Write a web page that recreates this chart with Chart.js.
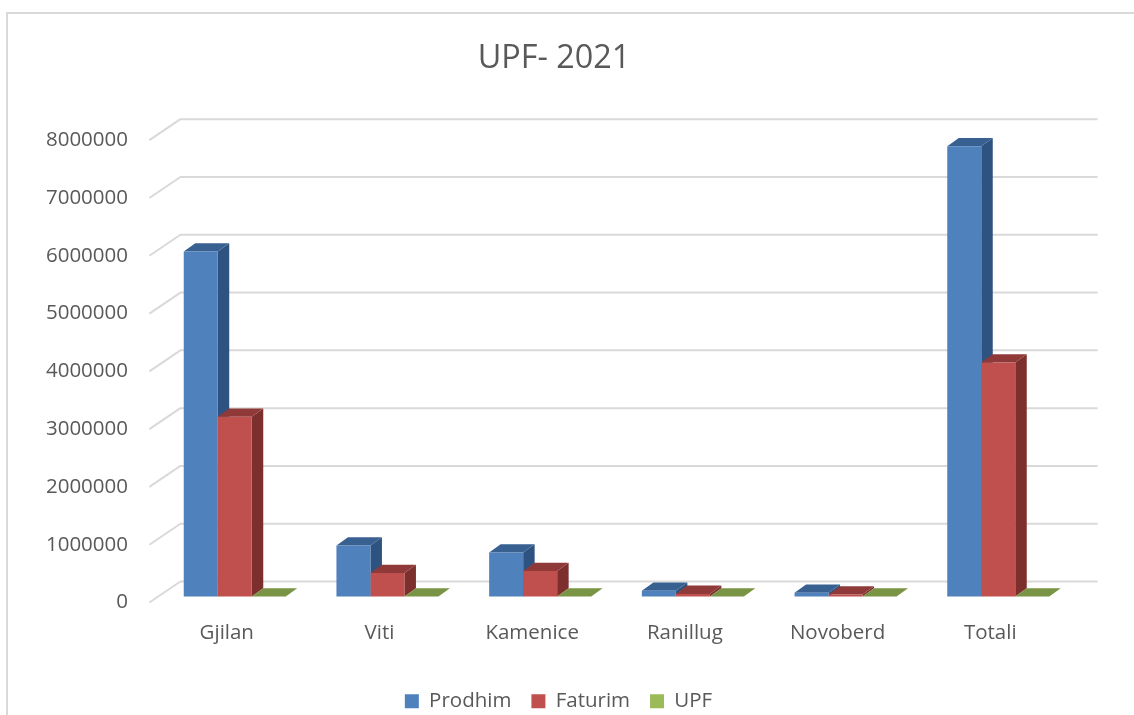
<!DOCTYPE html>
<html>
<head>
<meta charset="utf-8">
<script src="https://cdn.jsdelivr.net/npm/chart.js@4/dist/chart.umd.min.js"></script>
<style>
html,body{margin:0;padding:0;background:#fff;width:1134px;height:715px;overflow:hidden}
#frame{position:absolute;left:6px;top:12px;width:1128px;height:703px;border-left:2px solid #d9d9d9;border-top:2px solid #d9d9d9;box-sizing:border-box}
canvas{position:absolute;left:0;top:0}
</style>
</head>
<body>
<div id="frame"></div>
<canvas id="c" width="1134" height="715"></canvas>
<script>
const categories = ["Gjilan","Viti","Kamenice","Ranillug","Novoberd","Totali"];
const prodhim = [5970000,883000,760000,100000,65000,7790000];
const faturim = [3110000,406000,440000,45000,35000,4050000];
const upf = [0.52,0.46,0.58,0.55,0.67,0.52];
const axisMax = 8000000;
const axisStep = 1000000;

const FONT = '"Open Sans"';
const TEXT = '#595959';
const GRID = '#d9d9d9';
const depthX = 11.5, depthY = 8.3;          // depth of each 3D bar
const wallX = 31, wallY = 21;               // depth of the back wall
const barShiftX = 8, barShiftY = -6;        // bars sit inside the floor
const sideColors = ['#2f5380','#7c2f2d','#64802f'];
const topColors  = ['#386192','#8f3a38','#7a9445'];

const threeD = {
  id: 'threeD',
  afterLayout(chart) {
    const t = chart.titleBlock; t.left += 10.5; t.right += 10.5;
    const l = chart.legend; l.left += 15; l.right += 15; l.top = 671;
  },
  beforeDatasetsDraw(chart) {
    const {ctx, scales:{x, y}, chartArea:a} = chart;
    ctx.save();
    ctx.strokeStyle = GRID; ctx.lineWidth = 2; ctx.lineJoin = 'round';
    y.ticks.forEach(t => {
      const py = y.getPixelForValue(t.value);
      ctx.beginPath();
      ctx.moveTo(a.left - 1, py);
      ctx.lineTo(a.left - 1 + wallX, py - wallY);
      ctx.lineTo(a.right + wallX, py - wallY);
      ctx.stroke();
    });
    ctx.translate(barShiftX, barShiftY);
    const metas = chart.data.datasets.map((d, i) => chart.getDatasetMeta(i));
    metas.forEach((m, i) => {
      m.data.forEach(b => {
        const p = b.getProps(['x','y','base','width'], true);
        const l = p.x - p.width/2, r = p.x + p.width/2;
        ctx.fillStyle = sideColors[i];
        ctx.beginPath();
        ctx.moveTo(r, p.y); ctx.lineTo(r + depthX, p.y - depthY);
        ctx.lineTo(r + depthX, p.base - depthY); ctx.lineTo(r, p.base);
        ctx.closePath(); ctx.fill();
        ctx.fillStyle = topColors[i];
        ctx.beginPath();
        ctx.moveTo(l, p.y); ctx.lineTo(l + depthX, p.y - depthY);
        ctx.lineTo(r + depthX, p.y - depthY); ctx.lineTo(r, p.y);
        ctx.closePath(); ctx.fill();
      });
    });
    ctx.restore();
  },
  beforeDatasetDraw(chart) { chart.ctx.save(); chart.ctx.translate(barShiftX, barShiftY); },
  afterDatasetDraw(chart)  { chart.ctx.restore(); }
};

new Chart(document.getElementById('c'), {
  type: 'bar',
  data: {
    labels: categories,
    datasets: [
      {label:'Prodhim', data:prodhim, backgroundColor:'#4f81bd', clip:false},
      {label:'Faturim', data:faturim, backgroundColor:'#c0504d', clip:false},
      {label:'UPF',     data:upf,     backgroundColor:'#9bbb59', clip:false}
    ]
  },
  options: {
    responsive:false, animation:false,
    devicePixelRatio:1,
    categoryPercentage:0.668, barPercentage:1,
    layout:{padding:{left:20.4,right:67.4,top:0,bottom:0}},
    plugins:{
      title:{display:true,text:'UPF- 2021',color:TEXT,
        font:{family:FONT,size:32.4,weight:'normal',lineHeight:1.2},
        padding:{top:39,bottom:62.3}},
      legend:{display:true,position:'bottom',
        labels:{boxWidth:14,boxHeight:14,padding:20,color:TEXT,
          font:{family:FONT,size:20.5}}},
      tooltip:{enabled:false}
    },
    scales:{
      x:{
        grid:{display:false,drawTicks:false},border:{display:false},
        ticks:{color:TEXT,font:{family:FONT,size:20.5,lineHeight:1.2},padding:18.7,maxRotation:0},
        afterFit(s){s.height=62;}
      },
      y:{
        min:0,max:axisMax,
        grid:{display:false,drawTicks:false},border:{display:false},
        ticks:{stepSize:axisStep,color:TEXT,font:{family:FONT,size:20.5},padding:22.4,callback:v=>String(v)},
        afterFit(s){s.width=130;}
      }
    }
  },
  plugins:[threeD]
});
</script>
</body>
</html>
